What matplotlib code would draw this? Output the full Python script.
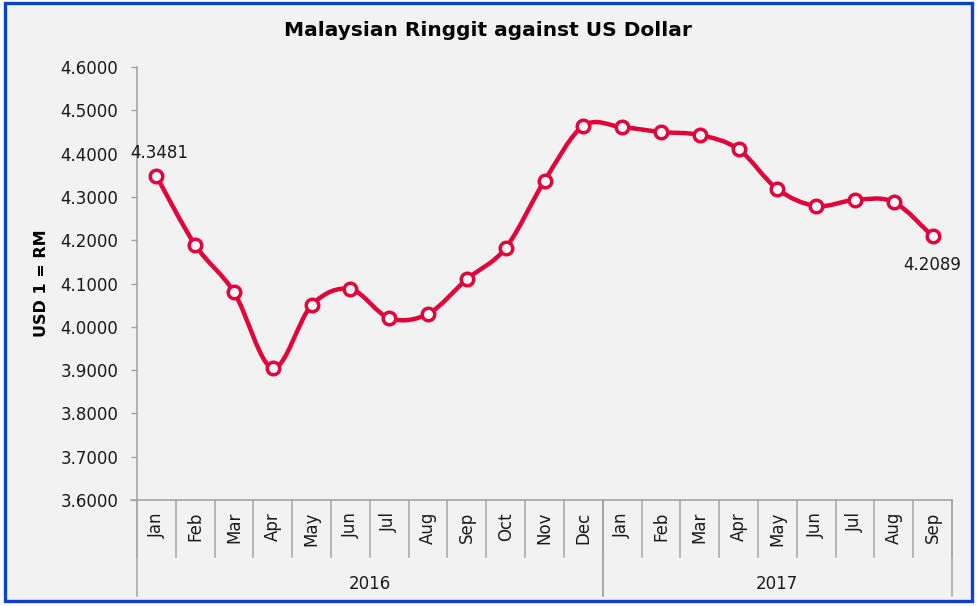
import matplotlib
matplotlib.use("Agg")
import matplotlib.pyplot as plt
from matplotlib.path import Path
from matplotlib.patches import PathPatch, Rectangle
from matplotlib.transforms import blended_transform_factory

# Dados
meses = ["Jan", "Feb", "Mar", "Apr", "May", "Jun", "Jul", "Aug", "Sep", "Oct", "Nov", "Dec",
         "Jan", "Feb", "Mar", "Apr", "May", "Jun", "Jul", "Aug", "Sep"]
anos = ["2016", "2017"]
meses_por_ano = [12, 9]
taxa = [4.3481, 4.189, 4.080, 3.905, 4.050, 4.087, 4.020, 4.030, 4.110, 4.182, 4.337, 4.464,
        4.461, 4.450, 4.443, 4.410, 4.318, 4.279, 4.293, 4.288, 4.2089]
y_ticks = [3.6, 3.7, 3.8, 3.9, 4.0, 4.1, 4.2, 4.3, 4.4, 4.5, 4.6]

vermelho = "#E2003B"
azul = "#0A43C8"
cinza = "#A6A6A6"

plt.rcParams["font.family"] = ["DejaVu Sans"]

fig = plt.figure(figsize=(9.78, 6.06), dpi=100, facecolor="white")
fig.patches.append(Rectangle((5 / 978, 5 / 606), 967 / 978, 598 / 606, transform=fig.transFigure,
                             facecolor="#F2F2F2", edgecolor=azul, linewidth=2.4, zorder=-10))

ax = fig.add_axes([137 / 978, 1 - 500 / 606, (952 - 137) / 978, 433 / 606])
ax.set_facecolor("none")
ax.set_zorder(5)

x = list(range(len(taxa)))

# linha suavizada (bezier tipo catmull-rom)
verts = [(x[0], taxa[0])]
codes = [Path.MOVETO]
n = len(taxa)
for i in range(n - 1):
    p0 = (x[max(i - 1, 0)], taxa[max(i - 1, 0)])
    p1 = (x[i], taxa[i])
    p2 = (x[i + 1], taxa[i + 1])
    p3 = (x[min(i + 2, n - 1)], taxa[min(i + 2, n - 1)])
    c1 = (p1[0] + (p2[0] - p0[0]) / 6, p1[1] + (p2[1] - p0[1]) / 6)
    c2 = (p2[0] - (p3[0] - p1[0]) / 6, p2[1] - (p3[1] - p1[1]) / 6)
    verts += [c1, c2, p2]
    codes += [Path.CURVE4, Path.CURVE4, Path.CURVE4]
ax.add_patch(PathPatch(Path(verts, codes), facecolor="none", edgecolor=vermelho, linewidth=3.2,
                       capstyle="round", joinstyle="round", zorder=2))
ax.plot(x, taxa, linestyle="none", marker="o", markersize=9, markerfacecolor="white",
        markeredgecolor=vermelho, markeredgewidth=2.5, zorder=3)

ax.annotate(f"{taxa[0]:.4f}", (x[0], taxa[0]), xytext=(2, 10), textcoords="offset points",
            ha="center", va="bottom", fontsize=12, color="#1a1a1a")
ax.annotate(f"{taxa[-1]:.4f}", (x[-1], taxa[-1]), xytext=(0, -14), textcoords="offset points",
            ha="center", va="top", fontsize=12, color="#1a1a1a")

ax.set_xlim(-0.5, len(taxa) - 0.5)
ax.set_ylim(3.6, 4.6)
ax.set_yticks(y_ticks)
ax.set_yticklabels([f"{v:.4f}" for v in y_ticks])
ax.tick_params(axis="y", length=4.5, width=1, color=cinza, labelsize=12, pad=9, labelcolor="#1a1a1a")
ax.set_xticks([])
for s in ["top", "right"]:
    ax.spines[s].set_visible(False)
ax.spines["left"].set_color(cinza)
ax.spines["bottom"].set_color(cinza)
ax.spines["left"].set_linewidth(1.2)
ax.spines["bottom"].set_linewidth(1.2)
ax.set_ylabel("USD 1 = RM", fontsize=11.5, fontweight="bold", labelpad=8)
# pequeno prolongamento do eixo horizontal para a esquerda
ax.plot([-6 / 815, 0], [0, 0], color=cinza, lw=1.2, transform=ax.transAxes, clip_on=False)

# eixo de categorias em dois níveis
trans = blended_transform_factory(ax.transData, ax.transAxes)
h_mes = 57 / 433
h_ano = 96 / 433
for i, m in enumerate(meses):
    ax.text(i, -12 / 433, m, rotation=90, ha="center", va="top", fontsize=12,
            transform=trans, color="#1a1a1a")
for i in range(len(meses) + 1):
    ax.plot([i - 0.5, i - 0.5], [0, -h_mes], color=cinza, lw=1.1, transform=trans, clip_on=False)
inicio = -0.5
for ano, k in zip(anos, meses_por_ano):
    fim = inicio + k
    ax.plot([inicio, inicio], [0, -h_ano], color=cinza, lw=1.1, transform=trans, clip_on=False)
    ax.plot([fim, fim], [0, -h_ano], color=cinza, lw=1.1, transform=trans, clip_on=False)
    ax.text((inicio + fim) / 2, -84 / 433, ano, ha="center", va="center", fontsize=12,
            transform=trans, color="#1a1a1a")
    inicio = fim

fig.text(488 / 978, 1 - 31 / 606, "Malaysian Ringgit against US Dollar", ha="center", va="center",
         fontsize=14.5, fontweight="bold")

fig.savefig("out.png", dpi=100, facecolor="white")
